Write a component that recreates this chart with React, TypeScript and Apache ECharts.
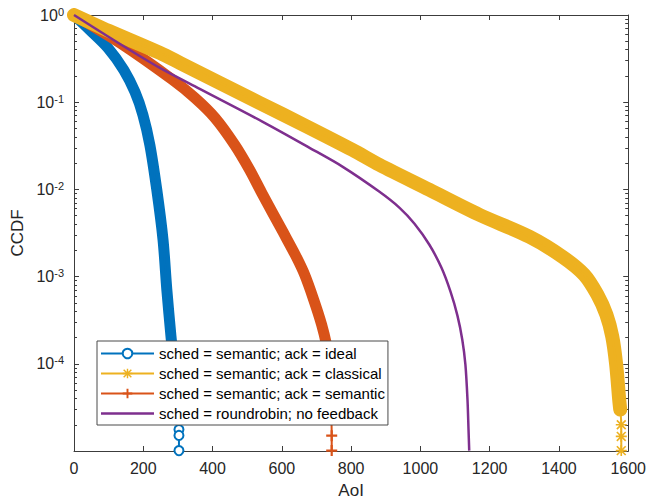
import React, { useEffect, useRef } from 'react';
import * as echarts from 'echarts';

// ---- data ----
const xTickValues = [0, 200, 400, 600, 800, 1000, 1200, 1400, 1600];
const yMinorTicks = [-5, -4, -3, -2, -1].flatMap((d) => [2, 3, 4, 5, 6, 7, 8, 9].map((m) => m * Math.pow(10, d)));

const seriesNames = [
  'sched = semantic; ack = ideal',
  'sched = semantic; ack = classical',
  'sched = semantic; ack = semantic',
  'sched = roundrobin; no feedback',
];

// sched = semantic; ack = ideal
const idealAoI = [0, 46, 98, 144, 176, 199, 219, 239, 257, 268, 280, 288, 294, 303, 303, 303];
const idealCCDF = [1, 0.673, 0.419, 0.234, 0.131, 0.0715, 0.0324, 0.00989, 0.00265, 7.08e-4, 2.05e-4, 1e-4, 3.9e-5, 1.76e-5, 1.51e-5, 1.01e-5];
const idealDense = 13; // points drawn as dense marker band
const idealTail = 13; // first isolated marker

// sched = semantic; ack = classical
const classicalAoI = [0, 101, 248, 306, 536, 669, 804, 882, 1026, 1170, 1315, 1410, 1473, 1511, 1537, 1554, 1565, 1574, 1577, 1580, 1580, 1580];
const classicalCCDF = [1, 0.656, 0.367, 0.282, 0.0982, 0.0535, 0.0284, 0.0191, 0.00989, 0.00512, 0.00286, 0.00169, 0.00105, 0.00062, 0.000366, 0.000205, 1e-4, 3.89e-5, 2.99e-5, 2.0e-5, 1.47e-5, 1.01e-5];
const classicalDense = 19;
const classicalTail = 18;

// sched = semantic; ack = semantic
const semanticAoI = [0, 133, 285, 349, 407, 464, 507, 542, 603, 640, 666, 692, 715, 729, 738, 741, 744, 744];
const semanticCCDF = [1, 0.478, 0.18, 0.112, 0.0661, 0.0324, 0.0168, 0.00914, 0.00327, 0.00174, 0.00105, 0.000544, 0.000281, 0.000166, 1e-4, 4.4e-5, 1.5e-5, 1.01e-5];
const semanticDense = 16;
const semanticTail = 16;

// sched = roundrobin; no feedback
const roundrobinAoI = [0, 133, 248, 363, 545, 680, 776, 882, 940, 983, 1026, 1061, 1087, 1107, 1121, 1130, 1136, 1139, 1141];
const roundrobinCCDF = [1, 0.465, 0.247, 0.142, 0.0595, 0.03, 0.01815, 0.00939, 0.00615, 0.00404, 0.00232, 0.00126, 0.000671, 0.000357, 0.000189, 9.8e-5, 3.9e-5, 1.76e-5, 1.01e-5];

const colors = ['#0072BD', '#EDB120', '#D95319', '#7E2F8E'];

const FONT = '"Liberation Sans", Arial, Helvetica, sans-serif';
const TXT = '#262626';
const AXIS = '#3c3c3c';
const SMOOTH = 0.3;

const asteriskPath =
  'path://M0,8.5h20v3h-20z M8.5,0h3v20h-3z M0.94,3.06L3.06,0.94L19.06,16.94L16.94,19.06z M16.94,0.94L19.06,3.06L3.06,19.06L0.94,16.94z';
const plusPath = 'path://M8,0h4v8h8v4h-8v8h-4v-8h-8v-4h8z';

function pairs(xs: number[], ys: number[]) {
  return xs.map((x, i) => [x, ys[i]]);
}

function bandSeries(id: string, xs: number[], ys: number[], n: number, color: string, width: number) {
  return {
    id,
    name: id,
    type: 'line',
    data: pairs(xs, ys).slice(0, n),
    symbol: 'none',
    smooth: SMOOTH,
    lineStyle: { color, width, cap: 'round', join: 'round' },
    silent: true,
    emphasis: { disabled: true },
  };
}

function mainSeries(name: string, xs: number[], ys: number[], tail: number, color: string, symbol: string, size: number, empty: boolean) {
  return {
    name,
    type: 'line',
    data: pairs(xs, ys).map((p, i) => (i < tail ? { value: p, symbol: 'none' } : { value: p })),
    symbol,
    symbolSize: size,
    showSymbol: true,
    showAllSymbol: true,
    smooth: SMOOTH,
    lineStyle: { color, width: 2 },
    itemStyle: empty ? { color, borderColor: color, borderWidth: 2 } : { color, borderWidth: 0 },
    silent: true,
    emphasis: { disabled: true },
  };
}

export default function App() {
  const ref = useRef<HTMLDivElement>(null);
  useEffect(() => {
    if (!ref.current) return;
    const chart = echarts.init(ref.current, undefined, { renderer: 'svg' });
    const option: any = {
      animation: false,
      backgroundColor: '#ffffff',
      textStyle: { fontFamily: FONT },
      grid: { left: 74, right: 20, top: 15, bottom: 52, containLabel: false },
      legend: {
        orient: 'vertical',
        left: 97,
        top: 341,
        padding: [4, 3, 3, 3],
        itemWidth: 53,
        itemHeight: 12,
        itemGap: 3,
        backgroundColor: '#ffffff',
        borderColor: '#4a4a4a',
        borderWidth: 1,
        borderRadius: 0,
        selectedMode: false,
        textStyle: { fontSize: 15, color: '#000', fontFamily: FONT, lineHeight: 17 },
        data: [
          { name: seriesNames[0] },
          { name: seriesNames[1] },
          { name: seriesNames[2] },
          { name: seriesNames[3], icon: 'path://M0,0h60v3h-60z' },
        ],
      },
      xAxis: [
        {
          type: 'value',
          min: xTickValues[0],
          max: xTickValues[xTickValues.length - 1],
          interval: 200,
          position: 'bottom',
          name: 'AoI',
          nameLocation: 'middle',
          nameGap: 31,
          nameTextStyle: { fontSize: 17, color: TXT, fontFamily: FONT },
          axisLine: { show: true, lineStyle: { color: AXIS, width: 1 } },
          axisTick: { show: true, inside: true, length: 5, lineStyle: { color: AXIS } },
          axisLabel: { fontSize: 16, color: TXT, margin: 9, fontFamily: FONT, formatter: (v: number) => String(v) },
          splitLine: { show: false },
        },
        {
          type: 'value',
          min: xTickValues[0],
          max: xTickValues[xTickValues.length - 1],
          interval: 200,
          position: 'top',
          axisLine: { show: true, lineStyle: { color: AXIS, width: 1 } },
          axisTick: { show: true, inside: true, length: 5, lineStyle: { color: AXIS } },
          axisLabel: { show: false },
          splitLine: { show: false },
        },
      ],
      yAxis: [
        {
          type: 'log',
          logBase: 10,
          min: 1e-5,
          max: 1,
          position: 'left',
          name: 'CCDF',
          nameLocation: 'middle',
          nameGap: 46,
          nameTextStyle: { fontSize: 17, color: TXT, fontFamily: FONT },
          axisLine: { show: true, lineStyle: { color: AXIS, width: 1 } },
          axisTick: { show: true, inside: true, length: 5, lineStyle: { color: AXIS } },
          splitLine: { show: false },
          axisLabel: {
            margin: 10,
            formatter: (v: number) => {
              const e = Math.round(Math.log10(v));
              if (e <= -5) return '';
              return '{b|10}{s|' + e + '}';
            },
            rich: {
              b: { fontSize: 16, fontFamily: FONT, color: TXT, lineHeight: 16, verticalAlign: 'bottom' },
              s: { fontSize: 11, fontFamily: FONT, color: TXT, lineHeight: 11, verticalAlign: 'bottom', padding: [0, 0, 6, 0] },
            },
          },
        },
        {
          type: 'log',
          logBase: 10,
          min: 1e-5,
          max: 1,
          position: 'left',
          axisLine: { show: false },
          axisTick: { show: true, inside: true, length: 3, lineStyle: { color: AXIS }, customValues: yMinorTicks },
          axisLabel: { show: false },
          splitLine: { show: false },
        },
        {
          type: 'log',
          logBase: 10,
          min: 1e-5,
          max: 1,
          position: 'right',
          axisLine: { show: true, lineStyle: { color: AXIS, width: 1 } },
          axisTick: { show: true, inside: true, length: 5, lineStyle: { color: AXIS } },
          axisLabel: { show: false },
          splitLine: { show: false },
        },
        {
          type: 'log',
          logBase: 10,
          min: 1e-5,
          max: 1,
          position: 'right',
          axisLine: { show: false },
          axisTick: { show: true, inside: true, length: 3, lineStyle: { color: AXIS }, customValues: yMinorTicks },
          axisLabel: { show: false },
          splitLine: { show: false },
        },
      ],
      series: [
        bandSeries('band-ideal', idealAoI, idealCCDF, idealDense, colors[0], 11),
        mainSeries(seriesNames[0], idealAoI, idealCCDF, idealTail, colors[0], 'emptyCircle', 9, true),
        bandSeries('band-semantic', semanticAoI, semanticCCDF, semanticDense, colors[2], 11),
        mainSeries(seriesNames[2], semanticAoI, semanticCCDF, semanticTail, colors[2], plusPath, 11, false),
        bandSeries('band-classical', classicalAoI, classicalCCDF, classicalDense, colors[1], 14),
        mainSeries(seriesNames[1], classicalAoI, classicalCCDF, classicalTail, colors[1], asteriskPath, 11, false),
        {
          name: seriesNames[3],
          type: 'line',
          data: pairs(roundrobinAoI, roundrobinCCDF),
          symbol: 'none',
          smooth: SMOOTH,
          lineStyle: { color: colors[3], width: 2.5, join: 'round' },
          itemStyle: { color: colors[3] },
          silent: true,
          emphasis: { disabled: true },
        },
      ],
    };
    chart.setOption(option);
    return () => chart.dispose();
  }, []);
  return <div ref={ref} style={{ position: 'fixed', left: 0, top: 0, width: 649, height: 504, background: '#fff' }} />;
}
